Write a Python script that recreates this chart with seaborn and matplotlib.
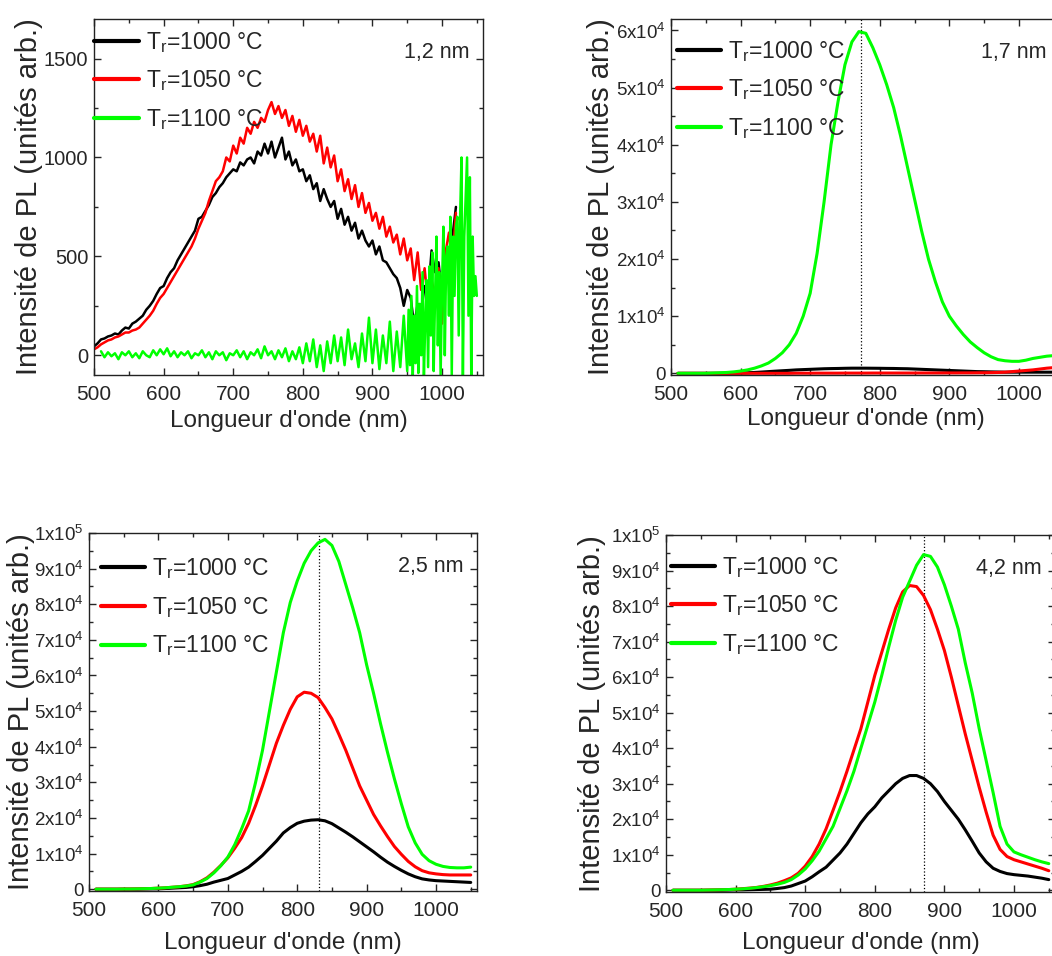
import numpy as np
import pandas as pd
import matplotlib
matplotlib.use('Agg')
import matplotlib.pyplot as plt
import seaborn as sns
from matplotlib.lines import Line2D
from matplotlib.ticker import MultipleLocator, FuncFormatter

# wavelength grids (nm)
wl_p1 = np.arange(500, 1021, 5)
wl_p1_green = np.concatenate([np.arange(510, 950, 5), np.arange(950, 1051, 2)])
wl = np.arange(510, 1051, 10)

# panel 1 (1,2 nm) - noisy spectra
p1_black = [45, 60, 80, 85, 95, 100, 110, 105, 125, 140,
            135, 160, 170, 185, 200, 230, 250, 275, 310, 340,
            350, 390, 420, 440, 480, 510, 540, 570, 600, 630,
            690, 700, 730, 760, 800, 820, 850, 870, 900, 920,
            940, 930, 975, 960, 990, 1000, 970, 1030, 1010, 1070,
            1020, 1080, 1000, 1050, 1100, 990, 1030, 960, 990, 930,
            940, 880, 910, 840, 870, 780, 840, 790, 750, 780,
            690, 740, 660, 700, 630, 670, 590, 630, 580, 550,
            580, 510, 550, 480, 470, 440, 410, 390, 340, 250,
            330, 290, 150, 260, 220, 350, 300, 530, 420, 470,
            300, 420, 520, 600, 750]
p1_red = [30, 40, 55, 65, 75, 80, 90, 95, 105, 115,
          115, 125, 130, 140, 160, 180, 200, 225, 260, 290,
          310, 340, 370, 400, 430, 460, 490, 520, 550, 590,
          640, 680, 720, 780, 830, 880, 900, 930, 1000, 980,
          1060, 1020, 1100, 1070, 1150, 1120, 1180, 1150, 1200, 1180,
          1240, 1280, 1220, 1260, 1200, 1240, 1160, 1210, 1130, 1190,
          1110, 1160, 1080, 1120, 1030, 1110, 970, 1050, 950, 1010,
          880, 940, 830, 890, 790, 860, 750, 820, 720, 770,
          680, 720, 640, 700, 600, 650, 570, 610, 510, 590,
          480, 540, 380, 520, 330, 440, 260, 380, 300, 440,
          160, 520, 620, 480, 720]
p1_green = [20, -10, 15, -5, 10, -20, 15, 0, 20, -10,
            10, -15, 20, 0, -10, 25, 0, 30, 5, 35,
            -5, 20, -10, 15, 0, 20, -15, 10, 0, 25,
            -10, 15, -20, 20, 0, 15, -25, 10, 0, 25,
            -10, 20, -20, 15, 0, 30, -15, 45, 0, 20,
            -20, 25, -10, 35, -30, 20, -20, 40, -40, 60,
            -30, 80, -60, 50, -80, 70, -40, 100, -30, 90,
            -50, 130, -20, 60, -60, 110, -30, 190, -40, 130,
            -70, 100, -40, 170, -80, 120, -60, 200,
            -80, 230, -50, 300, -100, 200, -40, 350, -90, 260,
            0, 420, -100, 180, 380, -60, 450, 100, 520, -80,
            300, 600, 50, 420, -100, 350, 650, 0, 500, 550,
            200, 700, -100, 600, 300, 650, 700, 100, 700, 1000,
            -100, 600, 800, 1000, 200, 900, -100, 600, 300, 400,
            300]

# panel 2 (1,7 nm)
p2_black = [0, 0, 0, 0, 0, 0, 0, 20, 30, 50,
            100, 150, 220, 300, 380, 450, 520, 600, 650, 700,
            750, 800, 830, 850, 880, 900, 900, 900, 890, 880,
            860, 850, 820, 800, 750, 700, 650, 600, 550, 500,
            450, 400, 350, 300, 280, 250, 230, 200, 200, 200,
            200, 200, 200, 200, 200]
p2_red = [0, 0, 0, 0, 0, 0, 0, 0, 0, 0,
          0, 0, 0, 0, 0, 0, 0, 20, 20, 20,
          30, 30, 30, 30, 40, 40, 40, 40, 50, 50,
          50, 50, 50, 50, 50, 60, 60, 60, 60, 70,
          70, 80, 80, 90, 100, 120, 150, 200, 300, 400,
          500, 600, 750, 900, 1000]
p2_green = [0, 0, 0, 0, 0, 50, 100, 150, 250, 400,
            600, 900, 1300, 1800, 2600, 3600, 5000, 7000, 10000, 14000,
            21000, 30000, 40000, 47500, 54000, 58000, 59800, 59500, 57000, 54000,
            50500, 46500, 41500, 36000, 30500, 25000, 20000, 16000, 12500, 10000,
            8300, 6800, 5500, 4500, 3600, 2900, 2400, 2200, 2100, 2100,
            2300, 2600, 2800, 3000, 3100]

# panel 3 (2,5 nm)
p3_black = [0, 0, 0, 0, 0, 0, 0, 50, 80, 100,
            200, 300, 400, 500, 700, 1000, 1400, 2000, 2500, 3000,
            4000, 5000, 6200, 7800, 9500, 11500, 13500, 15800, 17300, 18500,
            19100, 19400, 19500, 19200, 18400, 17200, 16000, 14700, 13300, 11900,
            10500, 9000, 7600, 6400, 5300, 4300, 3500, 2900, 2600, 2400,
            2300, 2200, 2100, 2000, 1900]
p3_red = [0, 0, 0, 0, 50, 50, 100, 150, 200, 300,
          400, 550, 700, 950, 1300, 2100, 3200, 4800, 6700, 8800,
          11500, 14500, 18500, 23500, 29000, 35000, 41000, 46000, 50500, 54000,
          55300, 55000, 53800, 51000, 47800, 43500, 39000, 34000, 29000, 25000,
          21000, 17800, 14800, 12000, 9800, 7800, 6300, 5200, 4600, 4300,
          4100, 4000, 4000, 4000, 4000]
p3_green = [0, 0, 0, 0, 50, 50, 100, 150, 200, 300,
            400, 550, 700, 900, 1200, 2000, 3000, 4600, 6600, 9000,
            12500, 17000, 22000, 30000, 39000, 50000, 61000, 72000, 80500, 86500,
            91500, 95000, 97200, 98200, 96500, 92000, 85500, 79000, 72000, 63000,
            55000, 46500, 38500, 31000, 24000, 17500, 13000, 9800, 8000, 7000,
            6400, 6100, 6000, 6000, 6200]

# panel 4 (4,2 nm)
p4_black = [0, 0, 0, 0, 0, 0, 0, 0, 50, 100,
            100, 150, 200, 250, 300, 500, 750, 1200, 1900, 2600,
            3800, 5200, 6500, 8500, 10500, 13000, 16000, 19000, 21500, 23500,
            26000, 28000, 30000, 31500, 32300, 32300, 31500, 30000, 27800, 25000,
            22500, 20000, 17000, 13800, 10500, 8000, 6200, 5300, 4700, 4400,
            4200, 4000, 3700, 3400, 3000]
p4_red = [0, 0, 0, 0, 0, 50, 100, 150, 200, 300,
          450, 600, 800, 1100, 1500, 2000, 2700, 3500, 4800, 6800,
          9500, 13000, 17300, 22500, 27800, 33500, 39500, 45500, 53000, 60500,
          67000, 73500, 79500, 84000, 85800, 85500, 83000, 79000, 73500, 67500,
          60000, 52000, 44000, 36500, 29000, 22000, 15500, 11500, 9500, 8600,
          8000, 7400, 6800, 6200, 5500]
p4_green = [0, 0, 0, 0, 0, 50, 100, 150, 200, 300,
            400, 550, 750, 1000, 1300, 1700, 2200, 3000, 4300, 6000,
            8300, 11000, 14500, 18000, 23000, 28000, 33500, 40000, 46500, 53000,
            60500, 68500, 76000, 82500, 87000, 91500, 94500, 94000, 91000, 86000,
            80000, 73500, 64000, 55500, 45500, 36500, 27500, 18000, 13000, 10800,
            10000, 9300, 8600, 8000, 7500]

labels = [r'T$_\mathregular{r}$=1000 °C', r'T$_\mathregular{r}$=1050 °C',
          r'T$_\mathregular{r}$=1100 °C']
colors = ['#000000', '#ff0000', '#00ff00']
sizes = ['1,2 nm', '1,7 nm', '2,5 nm', '4,2 nm']
peaks = [None, 773, 832, 870]

sns.set_style('ticks')
plt.rcParams['font.family'] = ['Liberation Sans', 'DejaVu Sans']
plt.rcParams['mathtext.fontset'] = 'custom'
plt.rcParams['mathtext.rm'] = 'Liberation Sans'
plt.rcParams['mathtext.it'] = 'Liberation Sans'


def long_df(series):
    frames = [pd.DataFrame({'wl': x, 'pl': y, 'Tr': lab})
              for (x, y), lab in zip(series, labels)]
    return pd.concat(frames, ignore_index=True)


def sci_fmt(v, pos):
    if v < 0:
        return ''
    if v < 1:
        return '0'
    e = int(np.floor(np.log10(v)))
    m = v / 10 ** e
    return r'%gx10$^{%d}$' % (m, e)


panels = [
    long_df([(wl_p1, p1_black), (wl_p1, p1_red), (wl_p1_green, p1_green)]),
    long_df([(wl, p2_black), (wl, p2_red), (wl, p2_green)]),
    long_df([(wl, p3_black), (wl, p3_red), (wl, p3_green)]),
    long_df([(wl, p4_black), (wl, p4_red), (wl, p4_green)]),
]

rects = [[0.0894, 0.6077, 0.3698, 0.3724],
         [0.6378, 0.6077, 0.3698, 0.3724],
         [0.0846, 0.0680, 0.3688, 0.3745],
         [0.6331, 0.0669, 0.3698, 0.3734]]
ylims = [(-100, 1700), (-300, 62000), (-500, 100000), (-500, 100000)]
ylab_x = [-0.13, -0.143, -0.138, -0.155]
xlab_y = [-0.098, -0.092, -0.115, -0.113]
leg_anchor = [(0.0, 0.97), (0.015, 0.945), (0.03, 0.935), (0.012, 0.945)]

fig = plt.figure(figsize=(10.52, 9.56), dpi=100)
pal = dict(zip(labels, colors))

for i, df in enumerate(panels):
    ax = fig.add_axes(rects[i])
    sns.lineplot(data=df, x='wl', y='pl', hue='Tr', palette=pal,
                 estimator=None, sort=False, legend=False,
                 lw=1.8 if i == 0 else 2.2, ax=ax)
    if peaks[i] is not None:
        ax.axvline(peaks[i], color='black', ls=':', lw=0.9, zorder=0)
    ax.set_xlim(500, 1059)
    ax.set_ylim(*ylims[i])
    ax.xaxis.set_major_locator(MultipleLocator(100))
    ax.xaxis.set_minor_locator(MultipleLocator(50))
    if i == 0:
        ax.yaxis.set_major_locator(MultipleLocator(500))
        ax.yaxis.set_minor_locator(MultipleLocator(250))
    else:
        ax.yaxis.set_major_locator(MultipleLocator(10000))
        ax.yaxis.set_minor_locator(MultipleLocator(5000))
        ax.yaxis.set_major_formatter(FuncFormatter(sci_fmt))
    ax.tick_params(which='both', direction='in', top=True, right=True,
                   width=1, labelsize=15)
    ax.tick_params(axis='x', pad=7)
    ax.tick_params(axis='y', pad=4, labelsize=14.5 if i == 0 else 13.5)
    ax.tick_params(which='major', length=5)
    ax.tick_params(which='minor', length=3)
    for s in ax.spines.values():
        s.set_linewidth(1)
        s.set_color('#222222')
    ax.set_xlabel("Longueur d'onde (nm)", fontsize=17.5)
    ax.set_ylabel('Intensité de PL (unités arb.)', fontsize=21)
    ax.yaxis.set_label_coords(ylab_x[i], 0.5)
    ax.xaxis.set_label_coords(0.5, xlab_y[i])
    handles = [Line2D([], [], color=c, lw=3) for c in colors]
    ax.legend(handles, labels, loc='upper left', bbox_to_anchor=leg_anchor[i],
              frameon=False, fontsize=16.5, handlelength=1.95,
              handletextpad=0.3, labelspacing=0.6, borderaxespad=0,
              borderpad=0)
    ax.text(0.965, 0.905, sizes[i], transform=ax.transAxes, ha='right',
            va='center', fontsize=15.5)

fig.savefig('out.png', dpi=100)
